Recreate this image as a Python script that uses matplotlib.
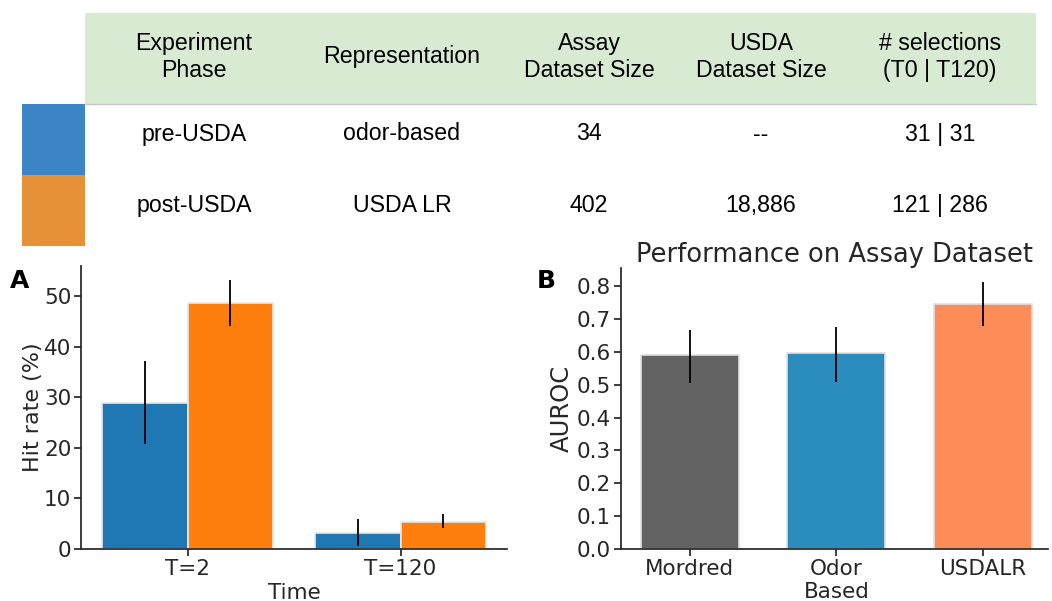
import matplotlib
matplotlib.use("Agg")
import matplotlib.pyplot as plt
import numpy as np
from matplotlib.patches import Rectangle

# table contents
header = ["Experiment\nPhase", "Representation", "Assay\nDataset Size",
          "USDA\nDataset Size", "# selections\n(T0 | T120)"]
rows = [["pre-USDA", "odor-based", "34", "--", "31 | 31"],
        ["post-USDA", "USDA LR", "402", "18,886", "121 | 286"]]
row_colors = ["#3d85c6", "#e69138"]

# panel A: hit rate
times = ["T=2", "T=120"]
pre_hit = [28.9, 3.1]
pre_lo = [20.8, 0.5]
pre_hi = [37.2, 5.9]
post_hit = [48.7, 5.4]
post_lo = [44.1, 4.2]
post_hi = [53.2, 6.9]

# panel B: AUROC
models = ["Mordred", "Odor\nBased", "USDALR"]
auroc = [0.590, 0.595, 0.745]
auroc_lo = [0.506, 0.509, 0.679]
auroc_hi = [0.666, 0.674, 0.812]
model_colors = ["#636363", "#2b8cbe", "#fc8d59"]

txt = "#262626"
plt.rcParams["font.family"] = ["DejaVu Sans"]

fig = plt.figure(figsize=(10.52, 6.01), dpi=100)

# ---- table on top (pixel coordinates overlay)
tab = fig.add_axes([0, 0, 1, 1])
tab.set_xlim(0, 1052)
tab.set_ylim(601, 0)
tab.axis("off")
tab.add_patch(Rectangle((85, 13), 951, 91, facecolor="#d9ead3", edgecolor="none"))
tab.plot([85, 1036], [104, 104], color="#c8c8c8", lw=1)
for i, c in enumerate(row_colors):
    tab.add_patch(Rectangle((22, 104 + i * 71), 63, 71, facecolor=c, edgecolor="none"))
col_x = [194, 402, 589, 761, 940]
tfont = dict(family=["Liberation Sans", "DejaVu Sans"], fontsize=16.7, color="black",
             ha="center", va="center", linespacing=1.22)
for x, h in zip(col_x, header):
    tab.text(x, 57, h, **tfont)
for r, row in enumerate(rows):
    for x, v in zip(col_x, row):
        tab.text(x, 134 + r * 71.5, v, **tfont)


def style(ax):
    for s in ["top", "right"]:
        ax.spines[s].set_visible(False)
    for s in ["left", "bottom"]:
        ax.spines[s].set_color(txt)
        ax.spines[s].set_linewidth(1.25)
    ax.tick_params(colors=txt, length=5, width=1.25)


# ---- panel A
axA = fig.add_axes([0.077, 0.0865, 0.405, 0.471])
x = np.arange(len(times))
w = 0.4
pre_err = [np.subtract(pre_hit, pre_lo), np.subtract(pre_hi, pre_hit)]
post_err = [np.subtract(post_hit, post_lo), np.subtract(post_hi, post_hit)]
axA.bar(x - w / 2, pre_hit, w, color="#1f77b4", edgecolor="#e8e8e8", lw=1.2)
axA.bar(x + w / 2, post_hit, w, color="#ff7f0e", edgecolor="#e8e8e8", lw=1.2)
axA.errorbar(x - w / 2, pre_hit, yerr=pre_err, fmt="none", ecolor="black", elinewidth=1.3)
axA.errorbar(x + w / 2, post_hit, yerr=post_err, fmt="none", ecolor="black", elinewidth=1.3)
axA.set_xlim(-0.5, 1.5)
axA.set_ylim(0, 56)
axA.set_yticks([0, 10, 20, 30, 40, 50])
axA.set_xticks(x)
axA.set_xticklabels(times)
axA.tick_params(labelsize=15.5, pad=2)
axA.set_ylabel("Hit rate (%)", fontsize=16, color=txt, labelpad=1)
axA.set_xlabel("Time", fontsize=15.5, color=txt, labelpad=3)
style(axA)
fig.text(0.009, 0.521, "A", fontsize=18, fontweight="bold", color="black")

# ---- panel B
axB = fig.add_axes([0.590, 0.0865, 0.406, 0.4676])
xb = np.arange(len(models))
b_err = [np.subtract(auroc, auroc_lo), np.subtract(auroc_hi, auroc)]
axB.bar(xb, auroc, 0.667, color=model_colors, edgecolor="#e0e0e0", lw=1.2)
axB.errorbar(xb, auroc, yerr=b_err, fmt="none", ecolor="black", elinewidth=1.3)
axB.set_xlim(-0.47, 2.44)
axB.set_ylim(0, 0.855)
axB.set_yticks(np.arange(0, 0.81, 0.1))
axB.set_yticklabels([f"{v:.1f}" for v in np.arange(0, 0.81, 0.1)])
axB.set_xticks(xb)
axB.set_xticklabels(models, linespacing=1.2)
axB.tick_params(labelsize=15.5, pad=2)
axB.set_ylabel("AUROC", fontsize=17.5, color=txt, labelpad=2)
axB.set_title("Performance on Assay Dataset", fontsize=18.5, color=txt, pad=4)
style(axB)
fig.text(0.510, 0.521, "B", fontsize=18, fontweight="bold", color="black")

fig.savefig("out.png", dpi=100)
